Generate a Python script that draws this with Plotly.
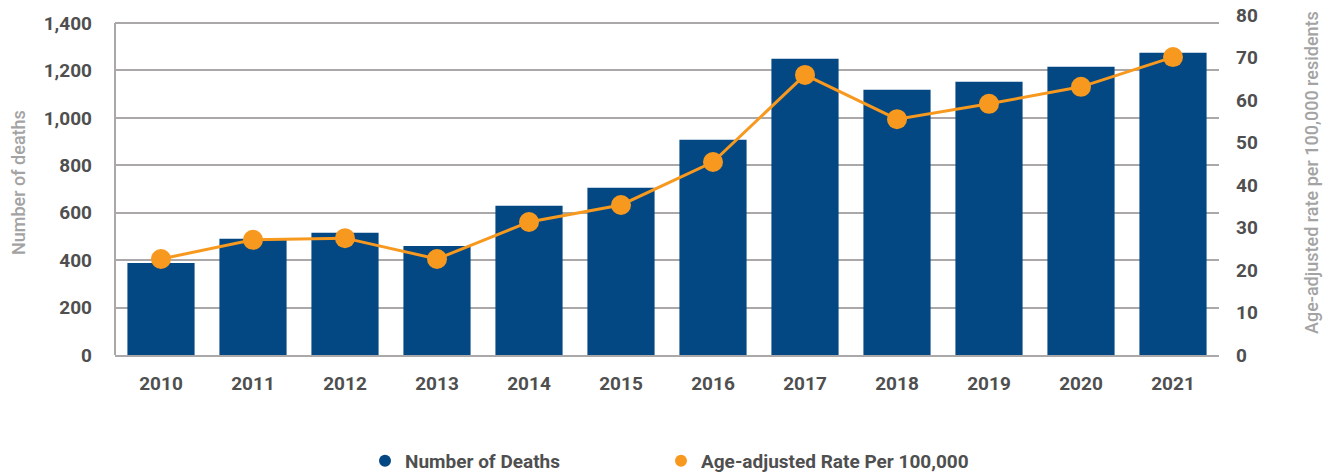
import plotly.graph_objects as go

# Annual overdose deaths and age-adjusted rate
years = ["2010", "2011", "2012", "2013", "2014", "2015",
         "2016", "2017", "2018", "2019", "2020", "2021"]
deaths = [388, 490, 515, 460, 629, 705, 908, 1249, 1119, 1152, 1216, 1275]
rates = [22.6, 27.1, 27.5, 22.6, 31.3, 35.3, 45.4, 65.9, 55.5, 59.1, 63.1, 70.1]

left_ticks = [0, 200, 400, 600, 800, 1000, 1200, 1400]
right_ticks = [0, 10, 20, 30, 40, 50, 60, 70, 80]

BLUE = "#034882"
ORANGE = "#f7991f"
GRID = "#aaa8a8"
TICK_TXT = "#4f4f4f"
TITLE_TXT = "#a3a3a3"
FONT = "Roboto, Liberation Sans, Arial, sans-serif"

W, H = 1330, 475
L, R, T, B = 115, 111, 15, 120
PW, PH = W - L - R, H - T - B

fig = go.Figure()

fig.add_trace(go.Bar(
    x=years, y=deaths, marker=dict(color=BLUE, line=dict(width=0)),
    name="Number of Deaths", showlegend=False, yaxis="y",
))
fig.add_trace(go.Scatter(
    x=years, y=rates, mode="lines+markers", yaxis="y2",
    line=dict(color=ORANGE, width=3),
    marker=dict(color=ORANGE, size=20),
    name="Age-adjusted Rate Per 100,000", showlegend=False,
))

# Legend entries drawn as round markers, each in its own legend box
fig.add_trace(go.Scatter(
    x=[None], y=[None], mode="markers", name="Number of Deaths",
    marker=dict(color=BLUE, size=14, symbol="circle"), legend="legend",
))
fig.add_trace(go.Scatter(
    x=[None], y=[None], mode="markers", name="Age-adjusted Rate Per 100,000",
    marker=dict(color=ORANGE, size=14, symbol="circle"), yaxis="y2",
    legend="legend2",
))

left_top = 1400 * 340 / 332
tick_font = dict(family=FONT, size=19, color=TICK_TXT, weight="bold")
legend_font = dict(family=FONT, size=19, color=TICK_TXT, weight="bold")


def px_x(px):
    return (px - L) / PW


def px_y(py):
    return (H - B - py) / PH


fig.update_layout(
    width=W, height=H,
    margin=dict(l=L, r=R, t=T, b=B, autoexpand=False),
    paper_bgcolor="white", plot_bgcolor="white",
    font=dict(family=FONT, color=TICK_TXT, size=19),
    bargap=0.27,
    xaxis=dict(
        type="category", range=[-0.5, len(years) - 0.5],
        showgrid=False, showline=True,
        linecolor=GRID, linewidth=2, ticks="",
        tickfont=tick_font, ticklabelstandoff=10,
    ),
    yaxis=dict(
        range=[0, left_top], tickvals=left_ticks,
        ticktext=[f"{v:,}" for v in left_ticks],
        showgrid=True, gridcolor=GRID, gridwidth=1.5,
        showline=False, zeroline=False, ticks="",
        tickfont=tick_font, ticklabelstandoff=22,
    ),
    yaxis2=dict(
        overlaying="y", side="right", range=[0, 80], tickvals=right_ticks,
        showgrid=False, showline=False, zeroline=False, ticks="",
        tickfont=tick_font, ticklabelstandoff=16,
    ),
    legend=dict(
        orientation="h", x=px_x(365), xanchor="left",
        y=px_y(461), yanchor="middle",
        font=legend_font, itemsizing="constant", bgcolor="rgba(0,0,0,0)",
    ),
    legend2=dict(
        orientation="h", x=px_x(661), xanchor="left",
        y=px_y(461), yanchor="middle",
        font=legend_font, itemsizing="constant", bgcolor="rgba(0,0,0,0)",
    ),
    shapes=[dict(
        type="line", xref="paper", yref="y", x0=0, x1=0, y0=0, y1=1400,
        line=dict(color=GRID, width=2),
    )],
    annotations=[
        dict(text="Number of deaths", xref="paper", yref="paper",
             x=px_x(18), y=px_y(183), xanchor="center", yanchor="middle",
             textangle=-90, showarrow=False,
             font=dict(family=FONT, size=18, color=TITLE_TXT, weight=500)),
        dict(text="Age-adjusted rate per 100,000 residents", xref="paper",
             yref="paper", x=px_x(1311), y=px_y(173),
             xanchor="center", yanchor="middle",
             textangle=-90, showarrow=False,
             font=dict(family=FONT, size=18, color=TITLE_TXT, weight=500)),
    ],
)

fig.write_html("out.html")
